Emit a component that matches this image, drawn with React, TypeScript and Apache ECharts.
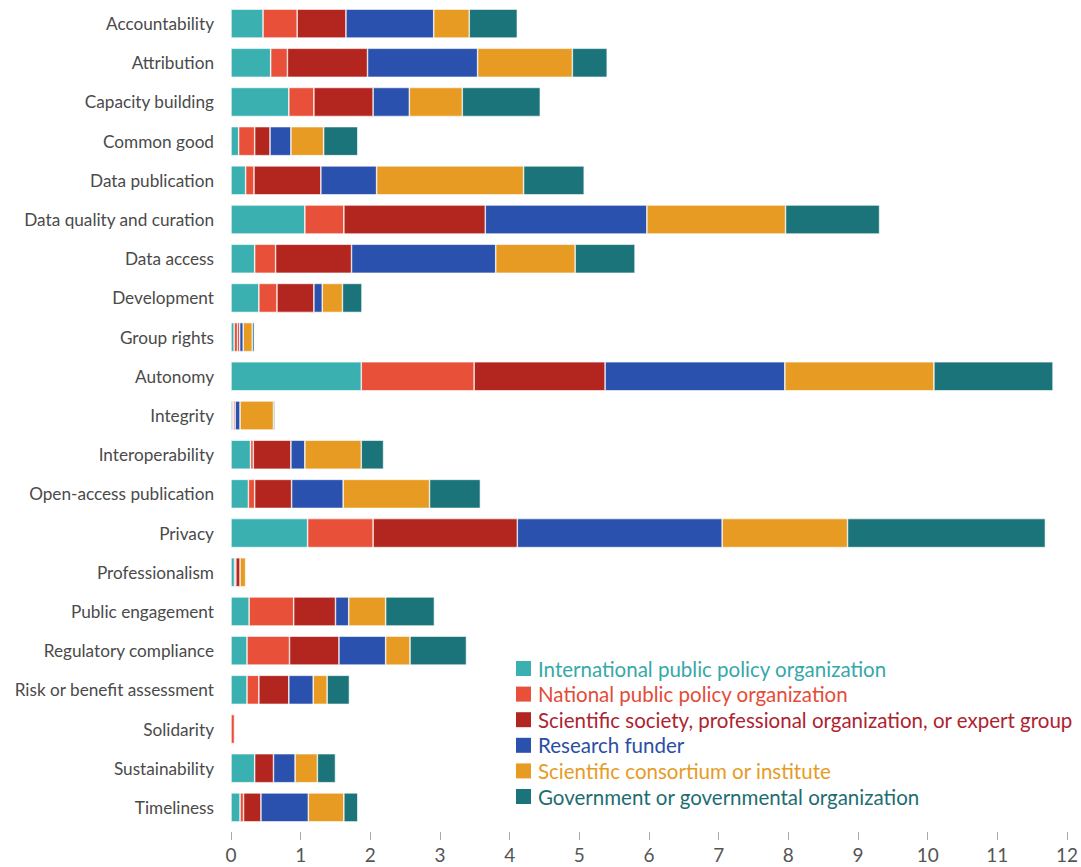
import React, { useEffect, useRef } from "react";
import * as echarts from "echarts";

const categories = [
  "Accountability",
  "Attribution",
  "Capacity building",
  "Common good",
  "Data publication",
  "Data quality and curation",
  "Data access",
  "Development",
  "Group rights",
  "Autonomy",
  "Integrity",
  "Interoperability",
  "Open-access publication",
  "Privacy",
  "Professionalism",
  "Public engagement",
  "Regulatory compliance",
  "Risk or benefit assessment",
  "Solidarity",
  "Sustainability",
  "Timeliness",
];

const seriesNames = [
  "International public policy organization",
  "National public policy organization",
  "Scientific society, professional organization, or expert group",
  "Research funder",
  "Scientific consortium or institute",
  "Government or governmental organization",
];

const colors = ["#3bb0b1", "#e8503a", "#b3261f", "#2a51ae", "#e89b22", "#1b7479"];
const textColors = ["#36a8a9", "#e34c38", "#ad2430", "#2b4ea5", "#e69b25", "#1d6d71"];

const international = [0.46, 0.57, 0.83, 0.11, 0.21, 1.06, 0.34, 0.40, 0.045, 1.87, 0.02, 0.28, 0.25, 1.10, 0.05, 0.26, 0.23, 0.23, 0, 0.34, 0.13];
const national = [0.49, 0.24, 0.36, 0.23, 0.12, 0.56, 0.30, 0.26, 0.05, 1.62, 0.02, 0.04, 0.09, 0.94, 0.02, 0.64, 0.61, 0.17, 0.05, 0, 0.05];
const scientificSociety = [0.70, 1.15, 0.85, 0.22, 0.96, 2.03, 1.09, 0.53, 0.03, 1.88, 0.02, 0.54, 0.53, 2.07, 0.06, 0.60, 0.71, 0.43, 0, 0.27, 0.25];
const researchFunder = [1.26, 1.58, 0.52, 0.30, 0.80, 2.32, 2.07, 0.12, 0.05, 2.58, 0.07, 0.20, 0.74, 2.94, 0, 0.19, 0.67, 0.35, 0, 0.31, 0.68];
const consortium = [0.51, 1.36, 0.76, 0.47, 2.11, 1.99, 1.14, 0.29, 0.13, 2.14, 0.48, 0.81, 1.24, 1.80, 0.08, 0.53, 0.35, 0.20, 0, 0.32, 0.51];
const government = [0.69, 0.50, 1.12, 0.49, 0.87, 1.35, 0.86, 0.28, 0.03, 1.71, 0.02, 0.32, 0.73, 2.84, 0, 0.70, 0.81, 0.32, 0, 0.26, 0.20];

const xTicks = [0, 1, 2, 3, 4, 5, 6, 7, 8, 9, 10, 11, 12];

const seriesValues = [international, national, scientificSociety, researchFunder, consortium, government];

const FONT = "Lato, 'Open Sans', sans-serif";

export default function App() {
  const ref = useRef<HTMLDivElement>(null);

  useEffect(() => {
    if (!ref.current) return;
    const chart = echarts.init(ref.current, undefined, { renderer: "svg" });
    const option = {
      animation: false,
      backgroundColor: "#ffffff",
      textStyle: { fontFamily: FONT },
      grid: { left: 231, right: 9, top: 4, bottom: 40, containLabel: false },
      legend: {
        orient: "vertical",
        left: 511,
        top: 653,
        padding: 5,
        itemWidth: 15,
        itemHeight: 15,
        itemGap: 4.6,
        icon: "rect",
        itemStyle: { borderWidth: 0 },
        textStyle: { fontSize: 20.5, fontFamily: FONT, padding: [0, 0, 0, 2], lineHeight: 20 },
        data: seriesNames.map((n, i) => ({ name: n, textStyle: { color: textColors[i] } })),
      },
      xAxis: {
        type: "value",
        min: xTicks[0],
        max: xTicks[xTicks.length - 1],
        interval: 1,
        offset: 5,
        splitLine: { show: false },
        axisLine: { show: false },
        axisTick: { show: true, length: 8, lineStyle: { color: "#aaaaaa", width: 1 } },
        axisLabel: { fontSize: 19, color: "#555555", margin: 13, fontFamily: FONT },
      },
      yAxis: {
        type: "category",
        inverse: true,
        data: categories,
        axisLine: { show: false },
        axisTick: { show: false },
        axisLabel: { fontSize: 17.2, color: "#4a4a4a", margin: 17, fontFamily: FONT },
      },
      series: seriesNames.map((name, i) => ({
        name,
        type: "bar",
        stack: "total",
        barWidth: 29,
        itemStyle: { color: colors[i], borderColor: "#ffffff", borderWidth: 0.6 },
        emphasis: { disabled: true },
        data: seriesValues[i].map((v) => (v === 0 ? null : v)),
      })),
    };
    chart.setOption(option as any);
    return () => chart.dispose();
  }, []);

  return (
    <div
      ref={ref}
      style={{ position: "fixed", left: 0, top: 0, width: 1081, height: 867, background: "#fff" }}
    />
  );
}
